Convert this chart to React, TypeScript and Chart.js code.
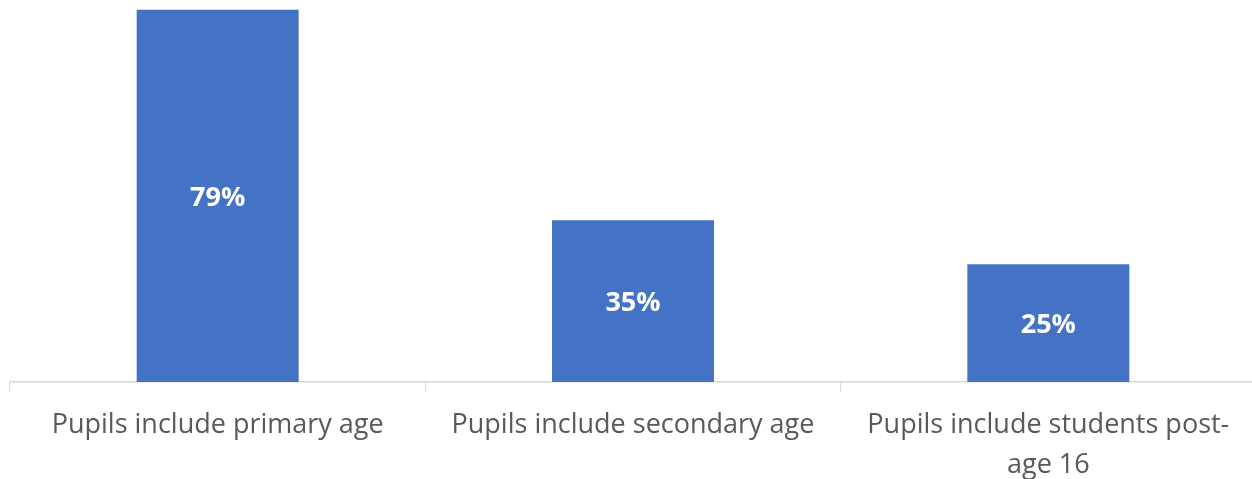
import React, { useEffect, useRef } from "react";
import { Chart, registerables } from "chart.js";

Chart.register(...registerables);

const categories: (string | string[])[] = [
  "Pupils include primary age",
  "Pupils include secondary age",
  ["Pupils include students post-", "age 16"],
];
const values: number[] = [79.4, 34.5, 25.1];
const barColor = "#4472C4";

const centerLabels = {
  id: "centerLabels",
  afterDatasetsDraw(chart: any) {
    const { ctx } = chart;
    const meta = chart.getDatasetMeta(0);
    ctx.save();
    ctx.fillStyle = "#ffffff";
    ctx.font = "bold 27px 'Open Sans'";
    ctx.textAlign = "center";
    ctx.textBaseline = "middle";
    meta.data.forEach((bar: any, i: number) => {
      const y = (bar.y + bar.base) / 2 + 2;
      ctx.fillText(Math.round(values[i]) + "%", bar.x, y);
    });
    ctx.restore();
  },
};

export default function App() {
  const ref = useRef<HTMLCanvasElement>(null);
  useEffect(() => {
    document.body.style.margin = "0";
    document.body.style.overflow = "hidden";
    document.documentElement.style.overflow = "hidden";
    const chart = new Chart(ref.current!, {
      type: "bar",
      data: {
        labels: categories,
        datasets: [
          {
            data: values,
            backgroundColor: barColor,
            barPercentage: 0.39,
            categoryPercentage: 1,
          },
        ],
      },
      options: {
        animation: false,
        responsive: false,
        maintainAspectRatio: false,
        layout: { padding: { top: 7, left: 10, right: 0, bottom: 0 } },
        plugins: { legend: { display: false }, tooltip: { enabled: false } },
        scales: {
          x: {
            grid: {
              display: true,
              drawOnChartArea: false,
              drawTicks: true,
              tickLength: 10,
              color: "#d9d9d9",
              offset: true,
            },
            border: { display: true, color: "#d9d9d9", width: 1.5 },
            ticks: {
              color: "#595959",
              font: { family: "'Open Sans'", size: 27, lineHeight: 1.5 },
              padding: 13,
              maxRotation: 0,
              autoSkip: false,
            },
          },
          y: {
            display: false,
            min: 0,
            max: 80,
          },
        },
      },
      plugins: [centerLabels],
    });
    return () => chart.destroy();
  }, []);
  return (
    <div style={{ position: "absolute", left: 0, top: 0, width: 1256, height: 499 }}>
      <canvas ref={ref} width={1256} height={499} style={{ display: "block" }} />
    </div>
  );
}
